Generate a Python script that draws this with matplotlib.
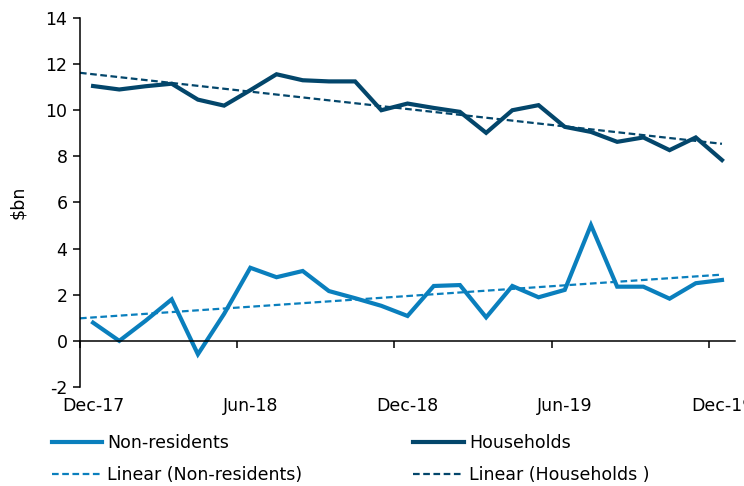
import numpy as np
import matplotlib.pyplot as plt

# monthly, Dec-17 .. Dec-19
months = ['Dec-17', 'Jan-18', 'Feb-18', 'Mar-18', 'Apr-18', 'May-18', 'Jun-18',
          'Jul-18', 'Aug-18', 'Sep-18', 'Oct-18', 'Nov-18', 'Dec-18',
          'Jan-19', 'Feb-19', 'Mar-19', 'Apr-19', 'May-19', 'Jun-19',
          'Jul-19', 'Aug-19', 'Sep-19', 'Oct-19', 'Nov-19', 'Dec-19']
non_residents = [0.79, 0.0, 0.87, 1.80, -0.58, 1.17, 3.17, 2.76, 3.03, 2.16, 1.85,
                 1.52, 1.08, 2.38, 2.42, 1.02, 2.38, 1.89, 2.21, 5.02, 2.35, 2.35,
                 1.83, 2.50, 2.64]
households = [11.05, 10.90, 11.04, 11.15, 10.46, 10.20, 10.87, 11.56, 11.30, 11.25,
              11.25, 10.00, 10.29, 10.10, 9.93, 9.02, 10.00, 10.22, 9.28, 9.06,
              8.63, 8.82, 8.27, 8.82, 7.84]
label_months = ['Dec-17', 'Jun-18', 'Dec-18', 'Jun-19', 'Dec-19']

c_nr = '#0A7FBD'
c_hh = '#03466B'

plt.rcParams['font.family'] = ['DejaVu Sans']

fig = plt.figure(figsize=(7.44, 4.86), dpi=100)
ax = fig.add_axes([0.1075, 0.2037, 0.8805, 0.7593])

x = np.arange(len(months))
xt = np.array([-0.5, x[-1]])

# excel-style linear trendlines
nr_fit = np.polyfit(x, non_residents, 1)
hh_fit = np.polyfit(x, households, 1)

l1, = ax.plot(x, non_residents, color=c_nr, lw=3.0, solid_joinstyle='miter',
              label='Non-residents')
l2, = ax.plot(x, households, color=c_hh, lw=3.0, solid_joinstyle='miter',
              label='Households')
l3, = ax.plot(xt, np.polyval(nr_fit, xt), color=c_nr, lw=1.6, ls=(0, (3, 1.6)),
              label='Linear (Non-residents)')
l4, = ax.plot(xt, np.polyval(hh_fit, xt), color=c_hh, lw=1.6, ls=(0, (3, 1.6)),
              label='Linear (Households )')

ax.set_xlim(-0.5, len(months) - 0.5)
ax.set_ylim(-2, 14)
ax.set_yticks(range(-2, 15, 2))
ax.set_yticklabels([str(v) for v in range(-2, 15, 2)])

for s in ['top', 'right']:
    ax.spines[s].set_visible(False)
ax.spines['bottom'].set_position(('data', 0))
ax.spines['left'].set_linewidth(1.1)
ax.spines['bottom'].set_linewidth(1.1)
ax.set_xticks(np.arange(-0.5, len(months), 6))
ax.tick_params(axis='x', direction='out', length=5, width=1.1, labelbottom=False)
ax.tick_params(axis='y', direction='out', length=5, width=1.1, labelsize=12.5,
               pad=4)

sec = ax.secondary_xaxis(location=0)
sec.set_xticks([months.index(m) for m in label_months])
sec.set_xticklabels(label_months)
sec.tick_params(length=0, labelsize=12.5, pad=7)
sec.spines['bottom'].set_visible(False)

ax.set_ylabel('$bn', fontsize=12.5, labelpad=13)

fig.legend(handles=[l1, l3, l2, l4], ncol=2, loc='lower left',
           bbox_to_anchor=(0.06, -0.011), frameon=False, fontsize=12.5,
           handlelength=2.9, handletextpad=0.3, columnspacing=6.4,
           labelspacing=0.85, borderaxespad=0)

fig.savefig('out.png', dpi=100)
